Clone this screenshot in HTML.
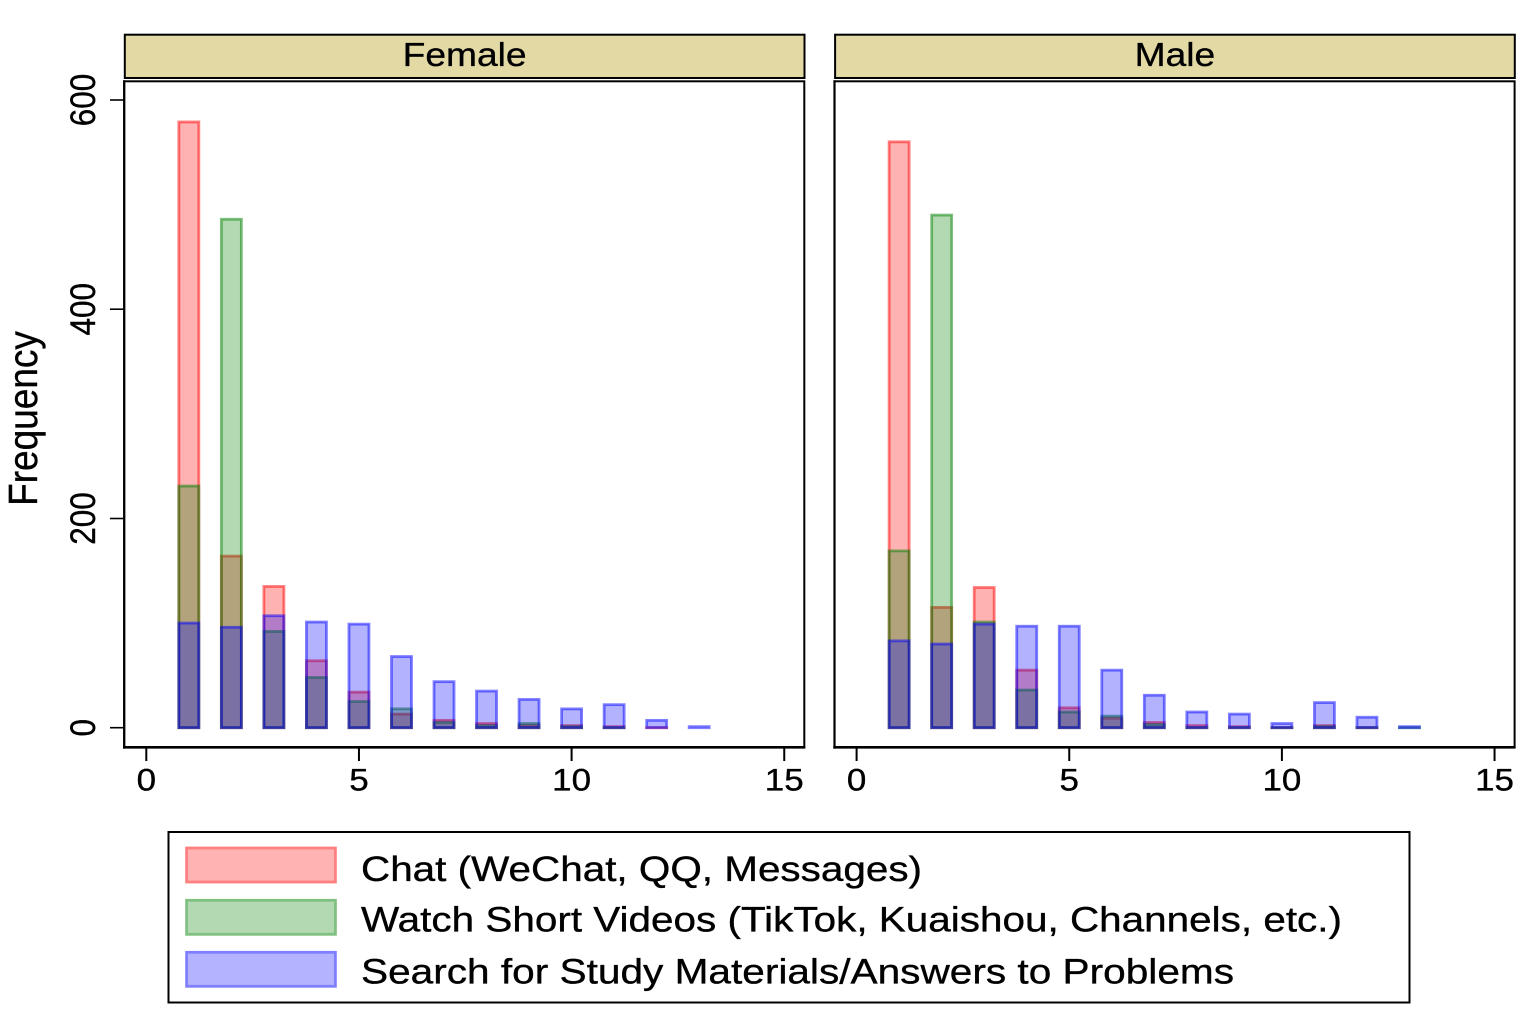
<!DOCTYPE html>
<html>
<head>
<meta charset="utf-8">
<style>
html,body{margin:0;padding:0;background:#fff;}
svg{display:block;}
text{font-family:"Liberation Sans",Arial,sans-serif;fill:#000;stroke:#000;stroke-width:0.35;}
.r{fill:rgba(255,0,0,0.3);stroke:rgba(255,0,0,0.5);stroke-width:2.8;}
.g{fill:rgba(0,128,0,0.3);stroke:rgba(0,128,0,0.5);stroke-width:2.8;}
.b{fill:rgba(0,0,255,0.3);stroke:rgba(0,0,255,0.5);stroke-width:2.8;}
</style>
</head>
<body>
<svg width="1536" height="1024" viewBox="0 0 1536 1024" xmlns="http://www.w3.org/2000/svg">
<rect x="0" y="0" width="1536" height="1024" fill="#fff"/>

<!-- ===== LEFT PANEL (Female) ===== -->
<rect x="124.8" y="34.7" width="679.7" height="43.3" fill="#e3d9a5" stroke="#000" stroke-width="2"/>
<text transform="translate(464.6,66) scale(1.11,1)" text-anchor="middle" font-size="33.5">Female</text>
<rect x="124.2" y="81.3" width="680.1" height="666" fill="#fff" stroke="#000" stroke-width="2"/>

<g transform="translate(146.3,727.7)">
  <!-- red -->
  <rect class="r" x="32.53" y="-605.75" width="20" height="605.75"/>
  <rect class="r" x="75.06" y="-171.58" width="20" height="171.58"/>
  <rect class="r" x="117.59" y="-141.24" width="20" height="141.24"/>
  <rect class="r" x="160.12" y="-66.96" width="20" height="66.96"/>
  <rect class="r" x="202.65" y="-35.57" width="20" height="35.57"/>
  <rect class="r" x="245.18" y="-13.6" width="20" height="13.6"/>
  <rect class="r" x="287.71" y="-7.32" width="20" height="7.32"/>
  <rect class="r" x="330.24" y="-4.18" width="20" height="4.18"/>
  <rect class="r" x="372.77" y="-2.09" width="20" height="2.09"/>
  <rect class="r" x="415.3" y="-2.09" width="20" height="2.09"/>
  <rect class="r" x="457.83" y="-1.05" width="20" height="1.05"/>
  <rect class="r" x="500.36" y="-0.1" width="20" height="0.1"/>
  <!-- green -->
  <rect class="g" x="32.53" y="-241.67" width="20" height="241.67"/>
  <rect class="g" x="75.06" y="-508.45" width="20" height="508.45"/>
  <rect class="g" x="117.59" y="-96.25" width="20" height="96.25"/>
  <rect class="g" x="160.12" y="-50.22" width="20" height="50.22"/>
  <rect class="g" x="202.65" y="-26.16" width="20" height="26.16"/>
  <rect class="g" x="245.18" y="-18.83" width="20" height="18.83"/>
  <rect class="g" x="287.71" y="-5.23" width="20" height="5.23"/>
  <rect class="g" x="330.24" y="-2.09" width="20" height="2.09"/>
  <rect class="g" x="372.77" y="-4.18" width="20" height="4.18"/>
  <rect class="g" x="415.3" y="-1.05" width="20" height="1.05"/>
  <rect class="g" x="457.83" y="-0.1" width="20" height="0.1"/>
  <!-- blue -->
  <rect class="b" x="32.53" y="-104.62" width="20" height="104.62"/>
  <rect class="b" x="75.06" y="-100.44" width="20" height="100.44"/>
  <rect class="b" x="117.59" y="-111.94" width="20" height="111.94"/>
  <rect class="b" x="160.12" y="-105.67" width="20" height="105.67"/>
  <rect class="b" x="202.65" y="-103.57" width="20" height="103.57"/>
  <rect class="b" x="245.18" y="-71.14" width="20" height="71.14"/>
  <rect class="b" x="287.71" y="-46.03" width="20" height="46.03"/>
  <rect class="b" x="330.24" y="-36.62" width="20" height="36.62"/>
  <rect class="b" x="372.77" y="-28.25" width="20" height="28.25"/>
  <rect class="b" x="415.3" y="-18.83" width="20" height="18.83"/>
  <rect class="b" x="457.83" y="-23.02" width="20" height="23.02"/>
  <rect class="b" x="500.36" y="-7.32" width="20" height="7.32"/>
  <rect class="b" x="542.89" y="-1.05" width="20" height="1.05"/>
</g>

<!-- left axes -->
<line x1="124.2" y1="80.3" x2="124.2" y2="748.6" stroke="#000" stroke-width="2.2"/>
<line x1="123" y1="747.3" x2="805.3" y2="747.3" stroke="#000" stroke-width="2.6"/>
<!-- y ticks -->
<g stroke="#000" stroke-width="1.6">
  <line x1="110" y1="100" x2="124" y2="100"/>
  <line x1="110" y1="309.2" x2="124" y2="309.2"/>
  <line x1="110" y1="518.5" x2="124" y2="518.5"/>
  <line x1="110" y1="727.7" x2="124" y2="727.7"/>
</g>
<g font-size="31.5" text-anchor="middle">
  <text transform="translate(95,100) scale(1.11,1) rotate(-90)">600</text>
  <text transform="translate(95,309.2) scale(1.11,1) rotate(-90)">400</text>
  <text transform="translate(95,518.5) scale(1.11,1) rotate(-90)">200</text>
  <text transform="translate(95,727.7) scale(1.11,1) rotate(-90)">0</text>
</g>
<text transform="translate(37,418.5) scale(1.11,1) rotate(-90)" text-anchor="middle" font-size="37">Frequency</text>
<!-- x ticks left -->
<g stroke="#000" stroke-width="2">
  <line x1="146.3" y1="747.3" x2="146.3" y2="761"/>
  <line x1="358.95" y1="747.3" x2="358.95" y2="761"/>
  <line x1="571.6" y1="747.3" x2="571.6" y2="761"/>
  <line x1="784.25" y1="747.3" x2="784.25" y2="761"/>
</g>
<g font-size="31.5" text-anchor="middle">
  <text transform="translate(146.3,790.5) scale(1.11,1)">0</text>
  <text transform="translate(358.95,790.5) scale(1.11,1)">5</text>
  <text transform="translate(571.6,790.5) scale(1.11,1)">10</text>
  <text transform="translate(784.25,790.5) scale(1.11,1)">15</text>
</g>

<!-- ===== RIGHT PANEL (Male) ===== -->
<g transform="translate(710.3,0)">
<rect x="124.8" y="34.7" width="679.7" height="43.3" fill="#e3d9a5" stroke="#000" stroke-width="2"/>
<text transform="translate(464.6,66) scale(1.11,1)" text-anchor="middle" font-size="33.5">Male</text>
<rect x="124.2" y="81.3" width="680.1" height="666" fill="#fff" stroke="#000" stroke-width="2"/>

<g transform="translate(146.3,727.7)">
  <!-- red -->
  <rect class="r" x="32.53" y="-585.87" width="20" height="585.87"/>
  <rect class="r" x="75.06" y="-120.31" width="20" height="120.31"/>
  <rect class="r" x="117.59" y="-140.19" width="20" height="140.19"/>
  <rect class="r" x="160.12" y="-57.54" width="20" height="57.54"/>
  <rect class="r" x="202.65" y="-19.88" width="20" height="19.88"/>
  <rect class="r" x="245.18" y="-9.42" width="20" height="9.42"/>
  <rect class="r" x="287.71" y="-5.23" width="20" height="5.23"/>
  <rect class="r" x="330.24" y="-2.09" width="20" height="2.09"/>
  <rect class="r" x="372.77" y="-1.05" width="20" height="1.05"/>
  <rect class="r" x="415.3" y="-0.1" width="20" height="0.1"/>
  <rect class="r" x="457.83" y="-2.09" width="20" height="2.09"/>
  <rect class="r" x="500.36" y="-0.1" width="20" height="0.1"/>
  <!-- green -->
  <rect class="g" x="32.53" y="-176.81" width="20" height="176.81"/>
  <rect class="g" x="75.06" y="-512.64" width="20" height="512.64"/>
  <rect class="g" x="117.59" y="-105.67" width="20" height="105.67"/>
  <rect class="g" x="160.12" y="-37.66" width="20" height="37.66"/>
  <rect class="g" x="202.65" y="-15.69" width="20" height="15.69"/>
  <rect class="g" x="245.18" y="-11.51" width="20" height="11.51"/>
  <rect class="g" x="287.71" y="-3.14" width="20" height="3.14"/>
  <rect class="g" x="330.24" y="-0.1" width="20" height="0.1"/>
  <rect class="g" x="372.77" y="-0.1" width="20" height="0.1"/>
  <rect class="g" x="415.3" y="-0.1" width="20" height="0.1"/>
  <rect class="g" x="457.83" y="-1.05" width="20" height="1.05"/>
  <rect class="g" x="500.36" y="-0.1" width="20" height="0.1"/>
  <rect class="g" x="542.89" y="-0.1" width="20" height="0.1"/>
  <!-- blue -->
  <rect class="b" x="32.53" y="-86.83" width="20" height="86.83"/>
  <rect class="b" x="75.06" y="-83.7" width="20" height="83.7"/>
  <rect class="b" x="117.59" y="-103.57" width="20" height="103.57"/>
  <rect class="b" x="160.12" y="-101.48" width="20" height="101.48"/>
  <rect class="b" x="202.65" y="-101.48" width="20" height="101.48"/>
  <rect class="b" x="245.18" y="-57.54" width="20" height="57.54"/>
  <rect class="b" x="287.71" y="-32.43" width="20" height="32.43"/>
  <rect class="b" x="330.24" y="-15.69" width="20" height="15.69"/>
  <rect class="b" x="372.77" y="-13.6" width="20" height="13.6"/>
  <rect class="b" x="415.3" y="-4.18" width="20" height="4.18"/>
  <rect class="b" x="457.83" y="-25.11" width="20" height="25.11"/>
  <rect class="b" x="500.36" y="-10.46" width="20" height="10.46"/>
  <rect class="b" x="542.89" y="-1.05" width="20" height="1.05"/>
</g>

<line x1="124.2" y1="80.3" x2="124.2" y2="748.6" stroke="#000" stroke-width="2.2"/>
<line x1="123" y1="747.3" x2="805.3" y2="747.3" stroke="#000" stroke-width="2.6"/>
<g stroke="#000" stroke-width="2">
  <line x1="146.3" y1="747.3" x2="146.3" y2="761"/>
  <line x1="358.95" y1="747.3" x2="358.95" y2="761"/>
  <line x1="571.6" y1="747.3" x2="571.6" y2="761"/>
  <line x1="784.25" y1="747.3" x2="784.25" y2="761"/>
</g>
<g font-size="31.5" text-anchor="middle">
  <text transform="translate(146.3,790.5) scale(1.11,1)">0</text>
  <text transform="translate(358.95,790.5) scale(1.11,1)">5</text>
  <text transform="translate(571.6,790.5) scale(1.11,1)">10</text>
  <text transform="translate(784.25,790.5) scale(1.11,1)">15</text>
</g>
</g>

<!-- ===== LEGEND ===== -->
<rect x="168.5" y="832" width="1241" height="170.5" fill="#fff" stroke="#000" stroke-width="2"/>
<rect x="186.6" y="848" width="148.8" height="34" fill="rgb(255,179,179)" stroke="rgb(255,128,128)" stroke-width="2.8"/>
<rect x="186.6" y="900.3" width="148.8" height="34" fill="rgb(179,217,179)" stroke="rgb(128,192,128)" stroke-width="2.8"/>
<rect x="186.6" y="952.3" width="148.8" height="34" fill="rgb(179,179,255)" stroke="rgb(128,128,255)" stroke-width="2.8"/>
<g font-size="35">
  <text x="361" y="881" textLength="561" lengthAdjust="spacingAndGlyphs">Chat (WeChat, QQ, Messages)</text>
  <text x="361" y="931.7" textLength="981" lengthAdjust="spacingAndGlyphs">Watch Short Videos (TikTok, Kuaishou, Channels, etc.)</text>
  <text x="361" y="983.3" textLength="873" lengthAdjust="spacingAndGlyphs">Search for Study Materials/Answers to Problems</text>
</g>
</svg>
</body>
</html>
